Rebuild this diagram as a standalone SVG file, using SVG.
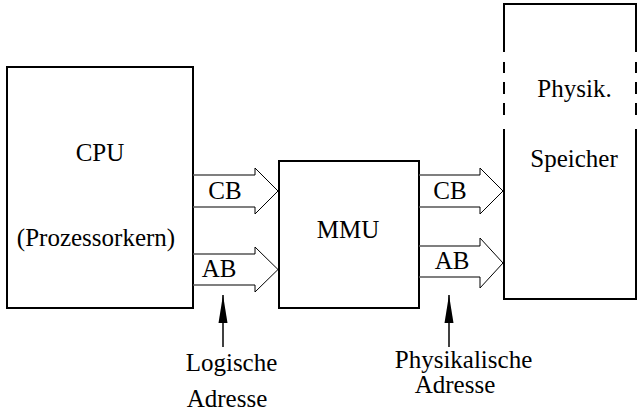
<svg xmlns="http://www.w3.org/2000/svg" width="640" height="414" viewBox="0 0 640 414">
<style>
.box{fill:#fff;stroke:#000;stroke-width:2}
.t{font-family:"Liberation Serif","Times New Roman",serif;font-size:25px;fill:#000;text-anchor:middle}
.shaft{fill:none;stroke:#555;stroke-width:1.5}
.head{fill:none;stroke:#000;stroke-width:1}
.pt{fill:none;stroke:#000;stroke-width:2}
</style>
<defs>
<marker id="ah" viewBox="0 0 28 10" refX="28" refY="5" markerWidth="28" markerHeight="10" markerUnits="userSpaceOnUse" orient="auto">
<path d="M28,5 L0,0.5 L0,9.5 Z" fill="#000"/>
</marker>
</defs>
<rect width="640" height="414" fill="#fff"/>
<g id="cpu">
<rect class="box" x="7" y="67" width="186" height="241"/>
<text class="t" x="100" y="161">CPU</text>
<text class="t" x="96" y="246">(Prozessorkern)</text>
</g>
<g id="mmu">
<rect class="box" x="279" y="161" width="140" height="147"/>
<text class="t" x="348" y="238">MMU</text>
</g>
<g id="speicher">
<rect x="504" y="4" width="132" height="295" fill="#fff"/>
<path class="pt" d="M504,52 V4 H636 V52 M504,62 V73 M504,82 V94 M504,103 V115 M636,62 V73 M636,82 V94 M636,103 V115 M504,129 V299 H636 V129"/>
<text class="t" x="574.5" y="97">Physik.</text>
<text class="t" x="574" y="167">Speicher</text>
</g>
<g id="connectors">
<g id="cpu-mmu-cb">
<path class="shaft" d="M193,175 H255 M193,207 H255"/>
<path class="head" d="M255,175 V168 L278,191 L255,214 V207"/>
<text class="t" x="225" y="199">CB</text>
</g>
<g id="cpu-mmu-ab">
<path class="shaft" d="M193,254 H255 M193,285 H255"/>
<path class="head" d="M255,254 V247 L278,269.5 L255,292 V285"/>
<text class="t" x="219" y="277">AB</text>
</g>
<g id="mmu-mem-cb">
<path class="shaft" d="M419,175 H480 M419,207 H480"/>
<path class="head" d="M480,175 V168 L503,191 L480,214 V207"/>
<text class="t" x="450" y="199">CB</text>
</g>
<g id="mmu-mem-ab">
<path class="shaft" d="M419,246 H480 M419,277 H480"/>
<path class="head" d="M480,246 V238 L503,263 L480,288 V277"/>
<text class="t" x="452" y="269">AB</text>
</g>
<g id="logische">
<line x1="223" y1="347" x2="223" y2="295" stroke="#000" stroke-width="1.5" marker-end="url(#ah)"/>
</g>
<g id="physikalische">
<line x1="449" y1="347" x2="449" y2="295" stroke="#000" stroke-width="1.5" marker-end="url(#ah)"/>
</g>
</g>
<g id="labels">
<text class="t" x="231.5" y="371">Logische</text>
<text class="t" x="227" y="407">Adresse</text>
<text class="t" x="463.5" y="368">Physikalische</text>
<text class="t" x="455" y="393">Adresse</text>
</g>
</svg>
